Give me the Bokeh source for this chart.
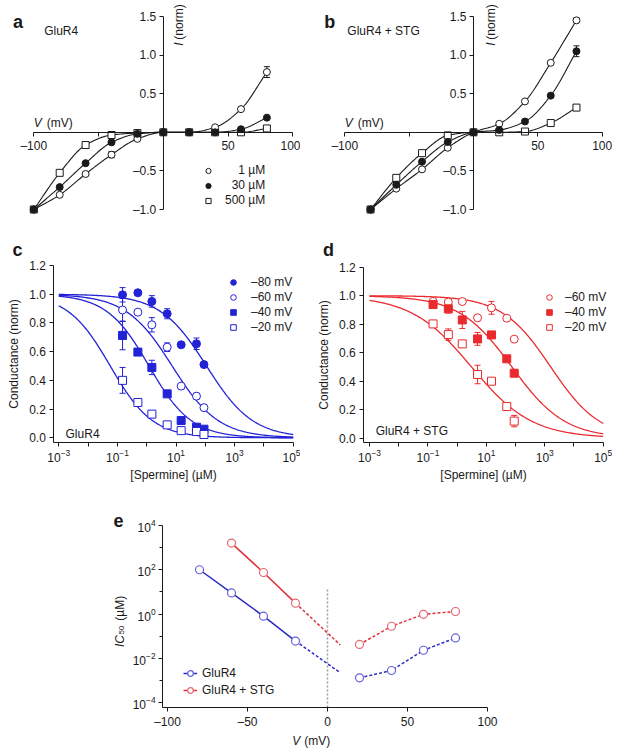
import numpy as np
from bokeh.plotting import figure
from bokeh.layouts import column, row
from bokeh.models import (Range1d, FixedTicker, Label, Legend, LegendItem, Whisker, TeeHead,
                          ColumnDataSource, LinearAxis, LogAxis, LogTickFormatter,
                          NumeralTickFormatter)
from bokeh.embed import file_html
from bokeh.resources import INLINE

FONT = "Liberation Sans"
INK = "#1a1a1a"
BLUE = "#2222d6"
RED = "#ea2a2e"
E_BLUE, E_BLUE_M = "#2a2ac4", "#6464d8"
E_RED, E_RED_M = "#e0303a", "#e26a70"

# ---------------- data ----------------
# panel a: GluR4 I-V (normalised) at three spermine concentrations
a_v = [-100, -80, -60, -40, -20, 0, 20, 40, 60, 80]
a_1uM = [-1.0, -0.81, -0.54, -0.29, -0.085, 0.0, 0.0, 0.065, 0.30, 0.78]
a_30uM = [-1.0, -0.71, -0.40, -0.13, -0.02, 0.0, 0.0, 0.0, 0.04, 0.19]
a_500uM = [-1.0, -0.525, -0.165, -0.035, -0.01, 0.0, 0.0, 0.0, 0.0, 0.05]
a_1uM_err = [0, 0.02, 0.02, 0.04, 0, 0, 0, 0, 0.03, 0.07]

# panel b: GluR4 + STG
b_v = [-80, -60, -40, -20, 0, 20, 40, 60, 80]
b_1uM = [-1.0, -0.73, -0.48, -0.20, 0.0, 0.11, 0.40, 0.90, 1.45]
b_30uM = [-1.0, -0.68, -0.38, -0.125, 0.0, 0.03, 0.14, 0.475, 1.05]
b_500uM = [-1.0, -0.59, -0.27, -0.04, 0.0, 0.0, 0.01, 0.12, 0.32]
b_1uM_err = [0, 0, 0, 0, 0, 0, 0, 0.02, 0.03]
b_30uM_err = [0, 0, 0, 0, 0, 0, 0, 0, 0.07]

iv_labels = ["\u2007\u20071 \u00b5M", "\u200730 \u00b5M", "500 \u00b5M"]

# panels c, d: conductance vs [spermine]
conc = [0.15, 0.5, 1.5, 5, 15, 50, 90]
c_labels = ["\u201380 mV", "\u201360 mV", "\u201340 mV", "\u201320 mV"]
c_m80 = [0.996, 1.01, 0.95, 0.864, 0.648, 0.655, 0.51]
c_m60 = [0.89, 0.875, 0.787, 0.631, 0.36, 0.29, 0.21]
c_m40 = [0.713, 0.597, 0.49, 0.306, 0.12, 0.074, 0.06]
c_m20 = [0.40, 0.246, 0.165, 0.09, 0.05, 0.044, 0.023]
c_m80_err = [0.05, 0, 0.04, 0.035, 0, 0.04, 0]
c_m60_err = [0.08, 0, 0.05, 0.03, 0, 0.02, 0]
c_m40_err = [0.1, 0.02, 0.05, 0, 0, 0, 0]
c_m20_err = [0.09, 0.02, 0, 0, 0, 0, 0]
c_ic50 = [110, 7.4, 1.2, 0.057]
c_hill = [0.55, 0.55, 0.6, 0.6]

d_labels = ["\u201360 mV", "\u201340 mV", "\u201320 mV"]
d_m60 = [0.96, 0.955, 0.959, 0.845, 0.915, 0.842, 0.695]
d_m40 = [0.938, 0.908, 0.83, 0.697, 0.725, 0.557, 0.456]
d_m20 = [0.802, 0.727, 0.662, 0.447, 0.40, 0.222, 0.12]
d_m60_err = [0, 0, 0, 0, 0.045, 0, 0]
d_m40_err = [0, 0.03, 0.06, 0.045, 0.02, 0, 0]
d_m20_err = [0.02, 0.04, 0, 0.065, 0.02, 0, 0.04]
d_ic50 = [1600, 75, 3.1]
d_hill = [0.52, 0.48, 0.42]

# panel e: IC50 vs voltage
e_v_neg_g = [-80, -60, -40, -20]
e_ic_neg_g = [100, 9, 0.8, 0.06]
e_ext_v = [-20, 8]
e_ext_g = [0.06, 0.0022]
e_v_pos = [20, 40, 60, 80]
e_ic_pos_g = [0.0013, 0.0028, 0.023, 0.083]
e_v_neg_s = [-60, -40, -20]
e_ic_neg_s = [1600, 75, 3.1]
e_ext_s = [3.1, 0.04]
e_ic_pos_s = [0.042, 0.28, 0.97, 1.3]
e_vline_x = [0]
e_vline_top = [15]


# ---------------- helpers ----------------
def pchip(x, y, xs):
    x = np.asarray(x, float); y = np.asarray(y, float)
    h = np.diff(x); d = np.diff(y) / h
    n = len(x); m = np.zeros(n)
    for k in range(1, n - 1):
        if d[k - 1] * d[k] > 0:
            w1 = 2 * h[k] + h[k - 1]; w2 = h[k] + 2 * h[k - 1]
            m[k] = (w1 + w2) / (w1 / d[k - 1] + w2 / d[k])
    m[0] = d[0]; m[-1] = d[-1]
    idx = np.clip(np.searchsorted(x, xs) - 1, 0, n - 2)
    t = (xs - x[idx]) / h[idx]
    h00 = 2 * t**3 - 3 * t**2 + 1; h10 = t**3 - 2 * t**2 + t
    h01 = -2 * t**3 + 3 * t**2; h11 = t**3 - t**2
    return h00 * y[idx] + h10 * h[idx] * m[idx] + h01 * y[idx + 1] + h11 * h[idx] * m[idx + 1]


def span_range(v0, p0, v1, p1, size, log=False, vertical=False):
    """Range covering the whole canvas, given two value->pixel anchors."""
    if log:
        v0, v1 = np.log10(v0), np.log10(v1)
    s = (v1 - v0) / (p1 - p0)
    a = v0 - p0 * s
    b = v0 + (size - p0) * s
    lo, hi = (b, a) if vertical else (a, b)
    if log:
        lo, hi = 10 ** lo, 10 ** hi
    return Range1d(lo, hi)


def make_fig(width, height, xr, yr, x_type="linear", y_type="linear"):
    p = figure(width=width, height=height, x_range=xr, y_range=yr,
               x_axis_type=x_type, y_axis_type=y_type,
               x_axis_location=None, y_axis_location=None,
               toolbar_location=None, output_backend="svg",
               min_border=0, min_border_left=0, min_border_right=0,
               min_border_top=0, min_border_bottom=0)
    p.outline_line_color = None
    p.grid.visible = False
    p.background_fill_color = "white"
    p.border_fill_color = "white"
    return p


def style_axis(ax, size="12px"):
    ax.axis_line_color = INK
    ax.axis_line_width = 1
    ax.major_tick_line_color = INK
    ax.minor_tick_line_color = INK
    ax.major_tick_out = 4
    ax.major_tick_in = 0
    ax.minor_tick_out = 4
    ax.minor_tick_in = 0
    ax.major_label_text_font = FONT
    ax.major_label_text_font_size = size
    ax.major_label_text_color = INK
    ax.axis_label_text_font = FONT
    ax.axis_label_text_font_size = size
    ax.axis_label_text_font_style = "normal"
    ax.axis_label_text_color = INK
    ax.major_label_standoff = 3


def lab(p, x, y, text, size="12px", style="normal", angle=0.0, align="left",
        baseline="alphabetic", color=INK):
    p.add_layout(Label(x=x, y=y, text=text, text_font=FONT, text_font_size=size,
                       text_font_style=style, angle=angle, text_align=align,
                       text_baseline=baseline, text_color=color))


def whiskers(p, xs, ys, errs, color):
    xx = [x for x, e in zip(xs, errs) if e > 0]
    lo = [y - e for y, e in zip(ys, errs) if e > 0]
    hi = [y + e for y, e in zip(ys, errs) if e > 0]
    if not xx:
        return
    src = ColumnDataSource(dict(x=xx, lo=lo, hi=hi))
    p.add_layout(Whisker(base="x", lower="lo", upper="hi", source=src,
                         line_color=color, line_width=1,
                         upper_head=TeeHead(size=6, line_color=color, line_width=1),
                         lower_head=TeeHead(size=6, line_color=color, line_width=1)))


def legend(p, items, loc, gh, standoff, spacing=1, gw=14):
    lg = Legend(items=items, location=loc, glyph_width=gw, glyph_height=gh,
                label_height=gh, spacing=spacing, padding=0, margin=0,
                border_line_color=None, background_fill_alpha=0,
                label_text_font=FONT, label_text_font_size="12px",
                label_text_color=INK, label_standoff=standoff)
    p.add_layout(lg)


# ---------------- I-V panels (a, b) ----------------
iv_yticks = [-1.0, -0.5, 0.5, 1.0, 1.5]
iv_ylabels = {-1.0: "\u20131.0", -0.5: "\u20130.5", 0.5: "0.5", 1.0: "1.0", 1.5: "1.5"}
iv_xticks = [-100, -50, 50, 100]
iv_xlabels = {-100: "\u2013100", -50: "", 50: "50", 100: "100"}
ROW1_H = 228


def iv_panel(width, px_m100, px_p100, v, s1, s30, s500, errs, letter, name, ixv):
    xr = span_range(-100, px_m100, 100, px_p100, width)
    yr = span_range(1.5, 16, -1.0, 209, ROW1_H, vertical=True)
    p = make_fig(width, ROW1_H, xr, yr)
    xa = LinearAxis(fixed_location=0, bounds=(-100, 100),
                    ticker=FixedTicker(ticks=iv_xticks, minor_ticks=[]),
                    major_label_overrides=iv_xlabels)
    ya = LinearAxis(fixed_location=0, bounds=(-1.0, 1.5),
                    ticker=FixedTicker(ticks=iv_yticks, minor_ticks=[]),
                    major_label_overrides=iv_ylabels)
    style_axis(xa); style_axis(ya)
    p.add_layout(xa, "below"); p.add_layout(ya, "left")
    vs = np.linspace(v[0], v[-1], 200)
    for s in (s1, s30, s500):
        p.line(vs, pchip(v, s, vs), line_color=INK, line_width=1.1)
    for s, e in zip((s1, s30), errs):
        whiskers(p, v, s, e, INK)
    r500 = p.scatter(v, s500, marker="square", size=7, fill_color="white", line_color=INK, line_width=1)
    r1 = p.scatter(v, s1, marker="circle", size=7, fill_color="white", line_color=INK, line_width=1)
    r30 = p.scatter(v, s30, marker="circle", size=7, fill_color=INK, line_color=INK, line_width=1)
    lab(p, -116, 1.43, letter, size="18px", style="bold")
    lab(p, name[1], 1.31, name[0])
    lab(p, -100, 0.115, "V", style="italic")
    lab(p, -90, 0.115, "(mV)")
    lab(p, ixv, 1.12, "I", style="italic", angle=np.pi / 2)
    lab(p, ixv, 1.20, "(norm)", angle=np.pi / 2)
    return p, (r1, r30, r500)


pa, (ra1, ra30, ra500) = iv_panel(300, 33.3, 292.3, a_v, a_1uM, a_30uM, a_500uM,
                                  (a_1uM_err, [0] * len(a_v)), "a", ("GluR4", -92), 12.4)
legend(pa, [LegendItem(label=iv_labels[0], renderers=[ra1]),
            LegendItem(label=iv_labels[1], renderers=[ra30]),
            LegendItem(label=iv_labels[2], renderers=[ra500])], (201, 21), 13, 10)

pb, _ = iv_panel(319, 44.3, 301.7, b_v, b_1uM, b_30uM, b_500uM,
                 (b_1uM_err, b_30uM_err), "b", ("GluR4 + STG", -98), 13.5)

# ---------------- dose-response panels (c, d) ----------------
xs_fit = np.logspace(-3, 5, 300)
dr_xticks = [1e-3, 1e-1, 1e1, 1e3, 1e5]
dr_xminor = [1e-2, 1e0, 1e2, 1e4]
dr_yticks = [0.0, 0.2, 0.4, 0.6, 0.8, 1.0, 1.2]
ROW2_H = 272


def dr_panel(width, px_lo, px_hi, py_top, py_zero, x_axis_at):
    xr = span_range(1e-3, px_lo, 1e5, px_hi, width, log=True)
    yr = span_range(1.2, py_top, 0.0, py_zero, ROW2_H, vertical=True)
    p = make_fig(width, ROW2_H, xr, yr, x_type="log")
    xa = LogAxis(fixed_location=-0.03, bounds=(x_axis_at, 1e5),
                 ticker=FixedTicker(ticks=dr_xticks, minor_ticks=dr_xminor),
                 formatter=LogTickFormatter(), axis_label="[Spermine] (\u00b5M)")
    ya = LinearAxis(fixed_location=x_axis_at, bounds=(-0.03, 1.2),
                    ticker=FixedTicker(ticks=dr_yticks, minor_ticks=[]),
                    formatter=NumeralTickFormatter(format="0.0"), axis_label="Conductance (norm)")
    style_axis(xa); style_axis(ya)
    xa.axis_label_standoff = 2
    ya.axis_label_standoff = 5
    ya.major_label_standoff = 4
    p.add_layout(xa, "below"); p.add_layout(ya, "left")
    return p


def dr_series(p, ys, errs, ic50, n, color, marker, filled):
    p.line(xs_fit, 1.0 / (1.0 + (xs_fit / ic50) ** n), line_color=color, line_width=1.3)
    whiskers(p, conc, ys, errs, color)
    return p.scatter(conc, ys, marker=marker, size=8, line_color=color, line_width=1,
                     fill_color=color if filled else "white")


pc = dr_panel(300, 58.3, 292.7, 37, 209.3, 10 ** -3.17)
rc = [dr_series(pc, c_m80, c_m80_err, c_ic50[0], c_hill[0], BLUE, "circle", True),
      dr_series(pc, c_m60, c_m60_err, c_ic50[1], c_hill[1], BLUE, "circle", False),
      dr_series(pc, c_m40, c_m40_err, c_ic50[2], c_hill[2], BLUE, "square", True),
      dr_series(pc, c_m20, c_m20_err, c_ic50[3], c_hill[3], BLUE, "square", False)]
legend(pc, [LegendItem(label=l, renderers=[r]) for l, r in zip(c_labels, rc)], (226, 166), 14, 11)
lab(pc, 10 ** -4.58, 1.31, "c", size="18px", style="bold")
lab(pc, 10 ** -2.77, 0.023, "GluR4")

pd = dr_panel(319, 69, 302.7, 38.7, 209.7, 10 ** -3.195)
rd = [dr_series(pd, d_m60, d_m60_err, d_ic50[0], d_hill[0], RED, "circle", False),
      dr_series(pd, d_m40, d_m40_err, d_ic50[1], d_hill[1], RED, "square", True),
      dr_series(pd, d_m20, d_m20_err, d_ic50[2], d_hill[2], RED, "square", False)]
legend(pd, [LegendItem(label=l, renderers=[r]) for l, r in zip(d_labels, rd)], (242, 166), 14, 9)
lab(pd, 10 ** -4.59, 1.32, "d", size="18px", style="bold")
lab(pd, 10 ** -2.79, 0.054, "GluR4 + STG")

# ---------------- panel e ----------------
E_W, E_H = 619, 248
X_E0 = -103.1
Y0 = 10 ** -4.226
pe = make_fig(E_W, E_H, span_range(-100, 167, 100, 487, E_W),
              span_range(1e4, 25, 1e-4, 202, E_H, log=True, vertical=True), y_type="log")
xa = LinearAxis(fixed_location=Y0, bounds=(X_E0, 100),
                ticker=FixedTicker(ticks=[-100, -50, 0, 50, 100], minor_ticks=[]),
                major_label_overrides={-100: "\u2013100", -50: "\u201350", 0: "0", 50: "50", 100: "100"})
ya = LogAxis(fixed_location=X_E0, bounds=(Y0, 1e4),
             ticker=FixedTicker(ticks=[1e-4, 1e-2, 1e0, 1e2, 1e4], minor_ticks=[1e-3, 1e-1, 1e1, 1e3]),
             formatter=LogTickFormatter())
style_axis(xa); style_axis(ya)
ya.minor_tick_out = 3
pe.add_layout(xa, "below"); pe.add_layout(ya, "left")

pe.segment(x0=e_vline_x, y0=[Y0] * len(e_vline_x), x1=e_vline_x, y1=e_vline_top,
           line_color="#9a9a9a", line_width=1.5, line_dash="2 2")

DASH = "3 2"
lg1 = pe.line(e_v_neg_g, e_ic_neg_g, line_color=E_BLUE, line_width=1.5)
pe.line(e_ext_v, e_ext_g, line_color=E_BLUE, line_width=1.5, line_dash=DASH)
pe.line(e_v_pos, e_ic_pos_g, line_color=E_BLUE, line_width=1.5, line_dash=DASH)
sg1 = pe.scatter(e_v_neg_g + e_v_pos, e_ic_neg_g + e_ic_pos_g, marker="circle", size=8,
                 fill_color="white", line_color=E_BLUE_M, line_width=1.2)

lg2 = pe.line(e_v_neg_s, e_ic_neg_s, line_color=E_RED, line_width=1.5)
pe.line(e_ext_v, e_ext_s, line_color=E_RED, line_width=1.5, line_dash=DASH)
pe.line(e_v_pos, e_ic_pos_s, line_color=E_RED, line_width=1.5, line_dash=DASH)
sg2 = pe.scatter(e_v_neg_s + e_v_pos, e_ic_neg_s + e_ic_pos_s, marker="circle", size=8,
                 fill_color="white", line_color=E_RED_M, line_width=1.2)

legend(pe, [LegendItem(label="GluR4", renderers=[lg1, sg1]),
            LegendItem(label="GluR4 + STG", renderers=[lg2, sg2])], (183, 50), 16, 5)

lab(pe, -133.75, 10 ** 4.23, "e", size="18px", style="bold")
lab(pe, -22, 10 ** -5.72, "V", style="italic")
lab(pe, -14.5, 10 ** -5.72, "(mV)")
lab(pe, -130.0, 10 ** -1.49, "IC", style="italic", angle=np.pi / 2)
lab(pe, -128.6, 10 ** -0.93, "50", size="8px", angle=np.pi / 2)
lab(pe, -130.0, 10 ** -0.30, "(\u00b5M)", angle=np.pi / 2)

layout = column(row(pa, pb), row(pc, pd), pe)
open("out.html", "w").write(file_html(layout, INLINE))
